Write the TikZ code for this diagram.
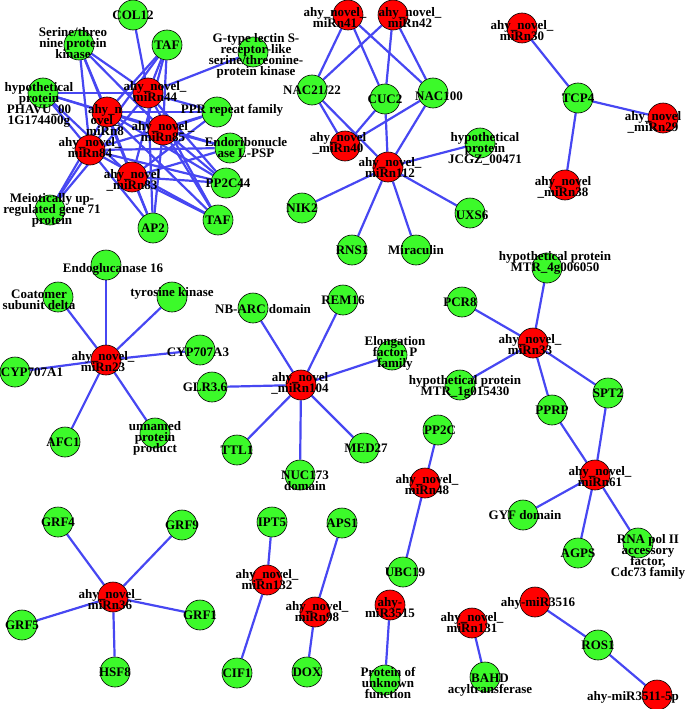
\documentclass[tikz,border=0pt]{standalone}
\usepackage{fontspec}
\setmainfont{Liberation Serif}
\usetikzlibrary{backgrounds}
\definecolor{gene-green}{HTML}{3CFA2A}
\definecolor{mir-red}{HTML}{FF0000}
\definecolor{link-blue}{HTML}{4747F2}
\newcommand{\netlabelfont}{\bfseries\fontsize{13}{11}\selectfont\lineskiplimit=-20pt\relax}

\tikzset{
  gene/.style={draw, circle, minimum size=30pt, inner sep=0pt, line width=0.6pt, fill=gene-green},
  mirna/.style={gene, fill=mir-red},
  every label/.style={font=\netlabelfont, align=center, inner sep=0pt},
  link/.style={line width=2.2pt, color=link-blue}
}

\begin{document}
\begin{tikzpicture}[x=1pt, y=-1pt]
    \useasboundingbox (0,0) rectangle (685,709);
    % dense cluster, top left
    \node[gene, label=center:COL12] (col12) at (133,15) {};
    \node[gene, label=center:TAF] (tafa) at (167,45) {};
    \node[gene, label={[xshift=-6pt, yshift=2pt]center:Serine/threo\\nine protein\\kinase}] (serthr) at (79,45) {};
    \node[gene, label={[xshift=-4pt, yshift=-12pt]center:hypothetical\\protein\\PHAVU\_00\\1G174400g}] (phavu) at (43,93) {};
    \node[gene, label={[xshift=3pt, yshift=-4pt]center:G-type lectin S-\\receptor-like\\serine/threonine-\\protein kinase}] (gtype) at (253,52) {};
    \node[gene, label={[xshift=15pt, yshift=2pt]center:PPR repeat family}] (ppr) at (217,112) {};
    \node[gene, label={[xshift=16pt]center:Endoribonucle\\ase L-PSP}] (endo) at (230,148) {};
    \node[gene, label={[xshift=2pt]center:PP2C44}] (pp2c44) at (226,183) {};
    \node[gene, label=center:TAF] (tafb) at (218,220) {};
    \node[gene, label=center:AP2] (ap2) at (153,228) {};
    \node[gene, label={[xshift=2pt]center:Meiotically up-\\regulated gene 71\\protein}] (meio) at (50,210) {};
    \node[mirna, label={[xshift=7pt, yshift=2pt]center:ahy\_novel\_\\miRn44}] (m44) at (148,93) {};
    \node[mirna, label={[xshift=-2pt, yshift=-8pt]center:ahy\_n\\ovel\_\\miRn8}] (m8) at (107,112) {};
    \node[mirna, label={[yshift=-2pt]center:ahy\_novel\_\\miRn85}] (m85) at (163,130) {};
    \node[mirna, label={[yshift=2pt]center:ahy\_novel\_\\miRn84}] (m84) at (90,150) {};
    \node[mirna, label={[yshift=-3pt]center:ahy\_novel\\\_miRn83}] (m83) at (132,177) {};
    % NAC group
    \node[gene, label=center:NAC21/22] (nac21) at (312,90) {};
    \node[gene, label=center:CUC2] (cuc2) at (385,99) {};
    \node[gene, label={[xshift=6pt, yshift=-3pt]center:NAC100}] (nac100) at (433,93) {};
    \node[gene, label=center:NIK2] (nik2) at (302,208) {};
    \node[gene, label=center:RNS1] (rns1) at (352,250) {};
    \node[gene, label=center:Miraculin] (miracu) at (416,250) {};
    \node[gene, label={[xshift=2pt, yshift=-2pt]center:UXS6}] (uxs6) at (470,213) {};
    \node[gene, label={[xshift=5pt, yshift=-6pt]center:hypothetical\\protein\\JCGZ\_00471}] (jcgz) at (480,143) {};
    \node[mirna, label={[xshift=-13pt, yshift=-2pt]center:ahy\_novel\_\\miRn41}] (m41) at (348,15) {};
    \node[mirna, label={[xshift=17pt, yshift=-2pt]center:ahy\_novel\_\\miRn42}] (m42) at (393,15) {};
    \node[mirna, label={[xshift=-7pt, yshift=3pt]center:ahy\_novel\\\_miRn40}] (m40) at (345,146) {};
    \node[mirna, label={[xshift=2pt]center:ahy\_novel\_\\miRn112}] (m112) at (388,167) {};
    % TCP4
    \node[gene, label=center:TCP4] (tcp4) at (578,98) {};
    \node[mirna, label={[yshift=-3pt]center:ahy\_novel\_\\miRn30}] (m30) at (522,28) {};
    \node[mirna, label={[xshift=-10pt, yshift=-4pt]center:ahy\_novel\\\_miRn29}] (m29) at (663,118) {};
    \node[mirna, label={[xshift=-2pt, yshift=-2pt]center:ahy\_novel\\\_miRn38}] (m38) at (565,185) {};
    % miRn23
    \node[gene, label={[xshift=7pt, yshift=-4pt]center:Endoglucanase 16}] (egl16) at (106,265) {};
    \node[gene, label={[xshift=-19pt, yshift=-3pt]center:Coatomer\\subunit delta}] (coat) at (58,297) {};
    \node[gene, label={[yshift=4pt]center:tyrosine kinase}] (tyrk) at (172,297) {};
    \node[gene, label={[xshift=17pt]center:CYP707A1}] (cypa1) at (15,372) {};
    \node[gene, label={[xshift=-2pt, yshift=-2pt]center:CYP707A3}] (cypa3) at (200,350) {};
    \node[gene, label={[xshift=-2pt]center:AFC1}] (afc1) at (65,442) {};
    \node[gene, label={[yshift=-5pt]center:unnamed\\protein\\product}] (unnamed) at (155,433) {};
    \node[mirna, label={[xshift=-3pt, yshift=-2pt]center:ahy\_novel\_\\miRn23}] (m23) at (106,360) {};
    % miRn104
    \node[gene, label={[xshift=10pt, yshift=-1pt]center:NB-ARC domain}] (nbarc) at (253,308) {};
    \node[gene, label=center:REM16] (rem16) at (343,300) {};
    \node[gene, label={[xshift=3pt, yshift=2pt]center:Elongation\\factor P\\family}] (efp) at (392,355) {};
    \node[gene, label={[xshift=-7pt]center:GLR3.6}] (glr36) at (212,387) {};
    \node[gene, label=center:TTL1] (ttl1) at (237,450) {};
    \node[gene, label={[xshift=2pt]center:MED27}] (med27) at (364,448) {};
    \node[gene, label={[xshift=5pt, yshift=-6pt]center:NUC173\\domain}] (nuc173) at (300,475) {};
    \node[mirna, label={[xshift=-1pt, yshift=2pt]center:ahy\_novel\\\_miRn104}] (m104) at (301,385) {};
    % miRn33 and miRn61
    \node[gene, label={[xshift=8pt, yshift=5pt]center:hypothetical protein\\MTR\_4g006050}] (mtr4g) at (547,268) {};
    \node[gene, label={[xshift=-2pt]center:PCR8}] (pcr8) at (462,302) {};
    \node[gene, label={[xshift=5pt, yshift=-2pt]center:hypothetical protein\\MTR\_1g015430}] (mtr1g) at (460,385) {};
    \node[gene, label=center:SPT2] (spt2) at (608,393) {};
    \node[gene, label=center:PPRP] (pprp) at (552,410) {};
    \node[gene, label={[xshift=2pt]center:GYF domain}] (gyf) at (523,515) {};
    \node[gene, label=center:AGPS] (agps) at (578,553) {};
    \node[gene, label={[xshift=10pt, yshift=-14pt]center:RNA pol II\\accessory\\factor,\\Cdc73 family}] (rnapol) at (638,543) {};
    \node[mirna, label={[xshift=-3pt, yshift=-2pt]center:ahy\_novel\_\\miRn33}] (m33) at (533,343) {};
    \node[mirna, label={[xshift=5pt, yshift=-2pt]center:ahy\_novel\_\\miRn61}] (m61) at (595,475) {};
    % miRn48
    \node[gene, label={[xshift=2pt]center:PP2C}] (pp2c) at (438,430) {};
    \node[gene, label={[xshift=2pt]center:UBC19}] (ubc19) at (403,572) {};
    \node[mirna, label={[xshift=2pt, yshift=-2pt]center:ahy\_novel\_\\miRn48}] (m48) at (425,483) {};
    % miRn36
    \node[gene, label=center:GRF4] (grf4) at (58,522) {};
    \node[gene, label=center:GRF9] (grf9) at (182,525) {};
    \node[gene, label=center:GRF1] (grf1) at (200,615) {};
    \node[gene, label=center:GRF5] (grf5) at (22,625) {};
    \node[gene, label=center:HSF8] (hsf8) at (115,672) {};
    \node[mirna, label={[xshift=-3pt, yshift=-3pt]center:ahy\_novel\_\\miRn36}] (m36) at (113,597) {};
    % small pairs
    \node[gene, label=center:IPT5] (ipt5) at (272,522) {};
    \node[gene, label=center:CIF1] (cif1) at (237,673) {};
    \node[mirna, label=center:ahy\_novel\_\\miRn132] (m132) at (267,580) {};
    \node[gene, label=center:APS1] (aps1) at (342,523) {};
    \node[gene, label=center:DOX] (dox) at (307,672) {};
    \node[mirna, label={[xshift=2pt]center:ahy\_novel\_\\miRn98}] (m98) at (315,612) {};
    \node[gene, label={[xshift=3pt, yshift=-3pt]center:Protein of\\unknown\\function}] (unknown) at (385,680) {};
    \node[mirna, label={[yshift=-3pt]center:ahy-\\miR3515}] (m3515) at (390,605) {};
    \node[gene, label={[xshift=5pt, yshift=-8pt]center:BAHD\\acyltransferase}] (bahd) at (485,677) {};
    \node[mirna, label=center:ahy\_novel\_\\miRn131] (m131) at (472,623) {};
    \node[gene, label=center:ROS1] (ros1) at (598,645) {};
    \node[mirna, label={[xshift=3pt, yshift=-1pt]center:ahy-miR3516}] (m3516) at (535,602) {};
    \node[mirna, label={[xshift=-24pt, yshift=-2pt]center:ahy-miR3511-5p}] (m3511) at (657,695) {};

    \begin{pgfonlayer}{background}
    \draw[link] (m44) -- (col12);
    \draw[link] (m44) -- (tafa);
    \draw[link] (m8) -- (tafa);
    \draw[link] (m84) -- (tafa);
    \draw[link] (m83) -- (tafa);
    \draw[link] (m85) -- (tafa);
    \draw[link] (m44) -- (serthr);
    \draw[link] (m8) -- (serthr);
    \draw[link] (m84) -- (serthr);
    \draw[link] (m83) -- (serthr);
    \draw[link] (m85) -- (serthr);
    \draw[link] (m44) -- (phavu);
    \draw[link] (m8) -- (phavu);
    \draw[link] (m85) -- (phavu);
    \draw[link] (m84) -- (phavu);
    \draw[link] (m83) -- (phavu);
    \draw[link] (m44) -- (gtype);
    \draw[link] (m44) -- (ppr);
    \draw[link] (m8) -- (ppr);
    \draw[link] (m84) -- (ppr);
    \draw[link] (m85) -- (ppr);
    \draw[link] (m83) -- (ppr);
    \draw[link] (m8) -- (endo);
    \draw[link] (m84) -- (endo);
    \draw[link] (m85) -- (endo);
    \draw[link] (m83) -- (endo);
    \draw[link] (m44) -- (pp2c44);
    \draw[link] (m8) -- (pp2c44);
    \draw[link] (m84) -- (pp2c44);
    \draw[link] (m85) -- (pp2c44);
    \draw[link] (m83) -- (pp2c44);
    \draw[link] (m44) -- (tafb);
    \draw[link] (m8) -- (tafb);
    \draw[link] (m84) -- (tafb);
    \draw[link] (m85) -- (tafb);
    \draw[link] (m83) -- (tafb);
    \draw[link] (m44) -- (ap2);
    \draw[link] (m8) -- (ap2);
    \draw[link] (m84) -- (ap2);
    \draw[link] (m85) -- (ap2);
    \draw[link] (m83) -- (ap2);
    \draw[link] (m44) -- (meio);
    \draw[link] (m8) -- (meio);
    \draw[link] (m84) -- (meio);
    \draw[link] (m41) -- (nac21);
    \draw[link] (m41) -- (cuc2);
    \draw[link] (m41) -- (nac100);
    \draw[link] (m42) -- (nac21);
    \draw[link] (m42) -- (cuc2);
    \draw[link] (m42) -- (nac100);
    \draw[link] (m40) -- (nac21);
    \draw[link] (m40) -- (cuc2);
    \draw[link] (m40) -- (nac100);
    \draw[link] (m112) -- (nac21);
    \draw[link] (m112) -- (cuc2);
    \draw[link] (m112) -- (nac100);
    \draw[link] (m112) -- (nik2);
    \draw[link] (m112) -- (rns1);
    \draw[link] (m112) -- (miracu);
    \draw[link] (m112) -- (uxs6);
    \draw[link] (m112) -- (jcgz);
    \draw[link] (tcp4) -- (m30);
    \draw[link] (tcp4) -- (m29);
    \draw[link] (tcp4) -- (m38);
    \draw[link] (m23) -- (egl16);
    \draw[link] (m23) -- (coat);
    \draw[link] (m23) -- (tyrk);
    \draw[link] (m23) -- (cypa1);
    \draw[link] (m23) -- (cypa3);
    \draw[link] (m23) -- (afc1);
    \draw[link] (m23) -- (unnamed);
    \draw[link] (m104) -- (nbarc);
    \draw[link] (m104) -- (rem16);
    \draw[link] (m104) -- (efp);
    \draw[link] (m104) -- (glr36);
    \draw[link] (m104) -- (ttl1);
    \draw[link] (m104) -- (med27);
    \draw[link] (m104) -- (nuc173);
    \draw[link] (m33) -- (mtr4g);
    \draw[link] (m33) -- (pcr8);
    \draw[link] (m33) -- (mtr1g);
    \draw[link] (m33) -- (pprp);
    \draw[link] (m33) -- (spt2);
    \draw[link] (m61) -- (pprp);
    \draw[link] (m61) -- (spt2);
    \draw[link] (m61) -- (gyf);
    \draw[link] (m61) -- (agps);
    \draw[link] (m61) -- (rnapol);
    \draw[link] (m48) -- (pp2c);
    \draw[link] (m48) -- (ubc19);
    \draw[link] (m36) -- (grf4);
    \draw[link] (m36) -- (grf9);
    \draw[link] (m36) -- (grf1);
    \draw[link] (m36) -- (grf5);
    \draw[link] (m36) -- (hsf8);
    \draw[link] (m132) -- (ipt5);
    \draw[link] (m132) -- (cif1);
    \draw[link] (m98) -- (aps1);
    \draw[link] (m98) -- (dox);
    \draw[link] (m3515) -- (unknown);
    \draw[link] (m131) -- (bahd);
    \draw[link] (m3516) -- (ros1);
    \draw[link] (ros1) -- (m3511);
    \end{pgfonlayer}
  \end{tikzpicture}
\end{document}
